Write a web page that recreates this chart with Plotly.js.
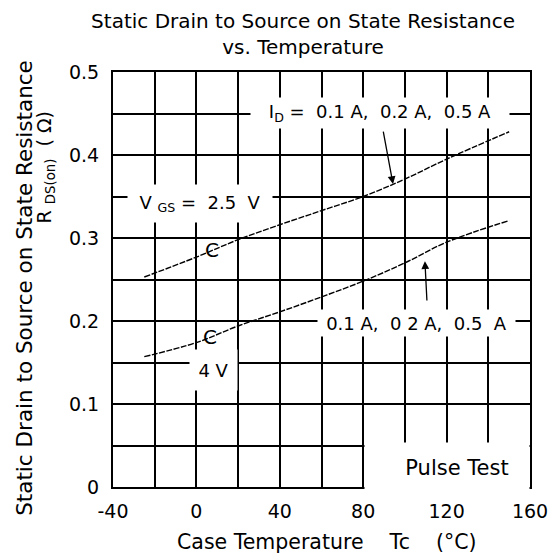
<!DOCTYPE html>
<html>
<head>
<meta charset="utf-8">
<script src="https://cdn.plot.ly/plotly-3.0.1.min.js"></script>
<style>html,body{margin:0;padding:0;background:#fff;}#chart{width:548px;height:554px;}</style>
</head>
<body>
<div id="chart"></div>
<script>
// Case temperature Tc (°C) and RDS(on) (Ω)
var tempVgs25 = [-25, 0, 20, 40, 60, 80, 100, 120, 150];
var rdsVgs25  = [0.253, 0.277, 0.298, 0.316, 0.333, 0.350, 0.371, 0.395, 0.428];
var tempVgs4  = [-25, 0, 20, 40, 60, 80, 100, 120, 150];
var rdsVgs4   = [0.157, 0.174, 0.194, 0.211, 0.229, 0.248, 0.270, 0.295, 0.321];

var xTickVals = [-40, 0, 40, 80, 120, 160];
var xTickText = ["-40", "0", "40", "80", "120", "160"];
var yTickVals = [0, 0.1, 0.2, 0.3, 0.4, 0.5];
var yTickText = ["0", "0.1", "0.2", "0.3", "0.4", "0.5"];

var FONT = "DejaVu Sans, Verdana, sans-serif";
var NB = "\u00a0";
var lineStyle = {color: "#000", width: 1.4, dash: "6px,1.5px", shape: "spline"};

var traces = [
  {x: tempVgs25, y: rdsVgs25, mode: "lines", line: lineStyle, hoverinfo: "skip", showlegend: false},
  {x: tempVgs4,  y: rdsVgs4,  mode: "lines", line: lineStyle, hoverinfo: "skip", showlegend: false}
];

function box(text, x, y, w, h, extra) {
  return Object.assign({
    text: text, x: x, y: y, xref: "x", yref: "y", showarrow: false,
    bgcolor: "#fff", width: w, height: h, borderpad: 0,
    font: {family: FONT, size: 18, color: "#000"}, xanchor: "center", yanchor: "middle"
  }, extra || {});
}
function arrow(xh, yh, xt, yt) {
  return {x: xh, y: yh, ax: xt, ay: yt, xref: "x", yref: "y", axref: "x", ayref: "y",
    text: "", showarrow: true, arrowhead: 2, arrowsize: 1.2, arrowwidth: 1.3, arrowcolor: "#000"};
}

var annotations = [
  box("I<sub>D</sub>" + NB + "=" + NB + NB + "0.1" + NB + "A," + NB + NB + "0.2" + NB + "A," + NB + NB + "0.5" + NB + "A", 88, 0.4506, 258, 30),
  box("V" + NB + "<sub>GS</sub>" + NB + "=" + NB + NB + "2.5" + NB + NB + "V", 1.7, 0.3416, 144, 37),
  box("0.1" + NB + "A," + NB + NB + "0" + NB + "2" + NB + "A," + NB + NB + "0.5" + NB + NB + "A", 105.6, 0.1976, 197, 26),
  box("4" + NB + "V", 8, 0.141, 47, 40),
  box("Pulse Test" + NB + NB, 120.3, 0.0229, 150, 35, {align: "right", borderpad: 7, font: {family: FONT, size: 21, color: "#000"}}),
  arrow(94.3, 0.365, 89.5, 0.43),
  arrow(109.6, 0.272, 110.6, 0.223),
  {text: "C", x: 7.5, y: 0.285, xref: "x", yref: "y", showarrow: false,
   font: {family: FONT, size: 20, color: "#000"}},
  {text: "C", x: 6.5, y: 0.181, xref: "x", yref: "y", showarrow: false,
   font: {family: FONT, size: 20, color: "#000"}},
  {text: "Static Drain to Source on State Resistance", xref: "paper", yref: "paper",
   x: -0.211, y: 0.48, textangle: -90, showarrow: false, xanchor: "center", yanchor: "middle",
   font: {family: FONT, size: 21.5, color: "#000"}},
  {text: "R" + NB + "<sub>DS(on)</sub>" + NB + NB + "(" + NB + "Ω)", xref: "paper", yref: "paper",
   x: -0.163, y: 0.77, textangle: -90, showarrow: false, xanchor: "center", yanchor: "middle",
   font: {family: FONT, size: 19, color: "#000"}},
  {text: "Case Temperature" + NB + NB + NB + NB + "Tc" + NB + NB + NB + NB + "(°C)", xref: "paper", yref: "paper",
   x: 0.513, y: -0.133, showarrow: false, xanchor: "center", yanchor: "middle",
   font: {family: FONT, size: 20.5, color: "#000"}}
];

var layout = {
  width: 548, height: 554,
  margin: {l: 113, r: 18, t: 72, b: 67},
  paper_bgcolor: "#fff", plot_bgcolor: "#fff",
  title: {text: "Static Drain to Source on State Resistance<br>vs. Temperature",
    x: 0.553, xanchor: "center", y: 0.95, yanchor: "top",
    font: {family: FONT, size: 20, color: "#000"}},
  xaxis: {range: [-40, 160], tickvals: xTickVals, ticktext: xTickText,
    showgrid: true, gridcolor: "#000", gridwidth: 2,
    minor: {dtick: 20, tick0: 0, showgrid: true, gridcolor: "#000", gridwidth: 2, ticks: ""},
    showline: true, linecolor: "#000", linewidth: 2, mirror: true, zeroline: false,
    ticks: "", ticklabelstandoff: 6, ticklabeloverflow: "allow",
    tickfont: {family: FONT, size: 19, color: "#000"}, fixedrange: true},
  yaxis: {range: [0, 0.5], tickvals: yTickVals, ticktext: yTickText,
    showgrid: true, gridcolor: "#000", gridwidth: 2,
    minor: {dtick: 0.05, tick0: 0, showgrid: true, gridcolor: "#000", gridwidth: 2, ticks: ""},
    showline: true, linecolor: "#000", linewidth: 2, mirror: true, zeroline: false,
    ticks: "", ticklabelstandoff: 8, ticklabeloverflow: "allow",
    tickfont: {family: FONT, size: 19, color: "#000"}, fixedrange: true},
  annotations: annotations,
  showlegend: false
};

Plotly.newPlot("chart", traces, layout, {displayModeBar: false, staticPlot: true});
</script>
</body>
</html>
